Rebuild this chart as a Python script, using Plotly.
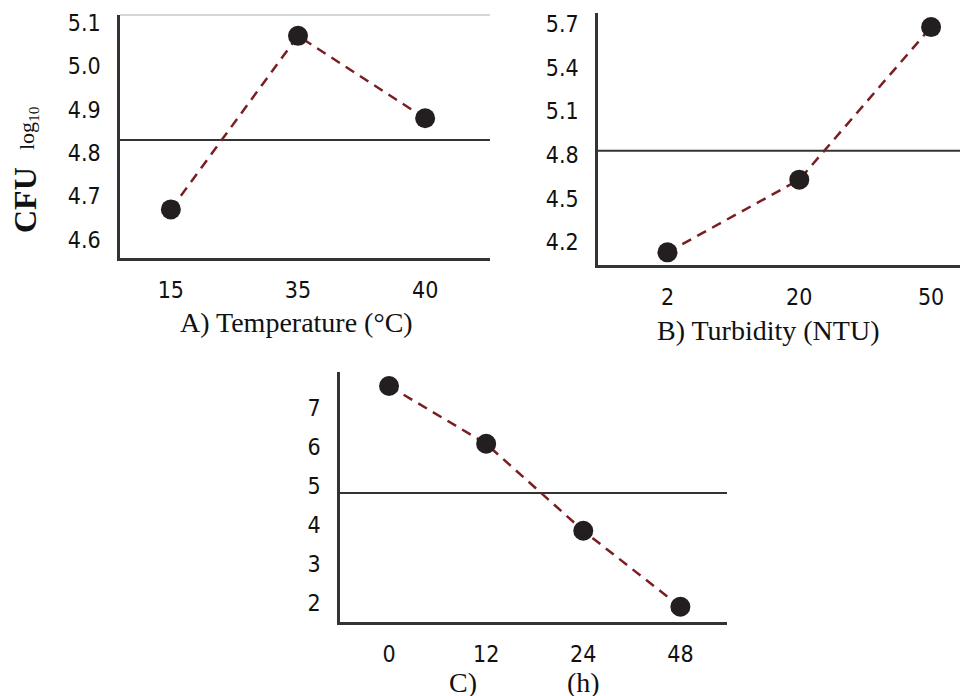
import plotly.graph_objects as go

# ---------------- data ----------------
temp_labels = ["15", "35", "40"]
temp_cfu = [4.67, 5.07, 4.88]

turb_labels = ["2", "20", "50"]
turb_cfu = [4.13, 4.63, 5.68]

time_labels = ["0", "12", "24", "48"]
time_cfu = [7.56, 6.08, 3.85, 1.90]

thresholds = [4.83, 4.83, 4.82]

yticks_a = [4.6, 4.7, 4.8, 4.9, 5.0, 5.1]
yticks_b = [4.2, 4.5, 4.8, 5.1, 5.4, 5.7]
yticks_c = [2, 3, 4, 5, 6, 7]

titles = ["A) Temperature (°C)", "B) Turbidity (NTU)"]
title_c = ["C)", "(h)"]
ytitle = ["CFU", "log<sub>10</sub>"]

# ---------------- styling ----------------
OFF = 8                      # page body margin
W, H = 968 - OFF, 696 - OFF  # figure size
LINE_RED = "#7a1e22"
DOT = "#231f20"
AX = "#333333"
TICKFONT = dict(family="DejaVu Sans Condensed, DejaVu Sans", size=23, color="#111")
SERIF = "Liberation Serif"


def dom_x(a, b):
    return [(a - OFF) / W, min(1, (b - OFF) / W)]


def dom_y(top, bottom):
    return [1 - (bottom - OFF) / H, 1 - (top - OFF) / H]


fig = go.Figure()

panels = [
    dict(x=temp_labels, y=temp_cfu, xa="x", ya="y", xd=dom_x(120, 490), yd=dom_y(15, 258),
         xr=[-0.40, 2.51], yr=[4.558, 5.118], yt=yticks_a, fmt=".1f"),
    dict(x=turb_labels, y=turb_cfu, xa="x2", ya="y2", xd=dom_x(598, 968), yd=dom_y(13, 265),
         xr=[-0.527, 2.28], yr=[4.043, 5.777], yt=yticks_b, fmt=".1f"),
    dict(x=time_labels, y=time_cfu, xa="x3", ya="y3", xd=dom_x(340, 727), yd=dom_y(372, 622),
         xr=[-0.505, 3.48], yr=[1.51, 7.92], yt=yticks_c, fmt="d"),
]

for i, p in enumerate(panels):
    fig.add_trace(go.Scatter(
        x=p["x"], y=p["y"], xaxis=p["xa"], yaxis=p["ya"], mode="lines+markers",
        line=dict(color=LINE_RED, width=2.5, dash="10px,7px"),
        marker=dict(size=20, color=DOT), showlegend=False, cliponaxis=False,
    ))
    sfx = "" if i == 0 else str(i + 1)
    fig.layout["xaxis" + sfx] = dict(
        domain=p["xd"], anchor="y" + sfx, type="category", range=p["xr"],
        showline=True, linecolor=AX, linewidth=2.5, showgrid=False, zeroline=False,
        ticks="", tickfont=TICKFONT, ticklabelstandoff=10, automargin=False,
    )
    fig.layout["yaxis" + sfx] = dict(
        domain=p["yd"], anchor="x" + sfx, range=p["yr"], tickvals=p["yt"], tickformat=p["fmt"],
        showline=True, linecolor=AX, linewidth=2.5, showgrid=False, zeroline=False,
        ticks="", tickfont=TICKFONT, ticklabelstandoff=12, automargin=False,
    )
    # threshold line
    fig.add_shape(type="line", xref=p["xa"] + " domain", yref=p["ya"],
                  x0=0, x1=1, y0=thresholds[i], y1=thresholds[i],
                  line=dict(color=AX, width=2), layer="below")

# faint top border on panel A
fig.add_shape(type="line", xref="x domain", yref="y domain", x0=0, x1=1, y0=1, y1=1,
              line=dict(color="#c8c8c8", width=1.5))

TFONT = dict(family=SERIF, size=28, color="#111")
# axis titles
fig.add_annotation(text=titles[0], xref="x domain", yref="y domain", x=0.478, y=0,
                   yshift=-64, yanchor="middle", xanchor="center", showarrow=False, font=TFONT)
fig.add_annotation(text=titles[1], xref="x2 domain", yref="y2 domain", x=0.46, y=0,
                   yshift=-65, yanchor="middle", xanchor="center", showarrow=False, font=TFONT)
fig.add_annotation(text=title_c[0], xref="x3 domain", yref="y3 domain", x=0.318, y=0,
                   yshift=-60, yanchor="middle", xanchor="center", showarrow=False, font=TFONT)
fig.add_annotation(text=title_c[1], xref="x3 domain", yref="y3 domain", x=0.628, y=0,
                   yshift=-60, yanchor="middle", xanchor="center", showarrow=False, font=TFONT)

# y title (two parts: bold CFU, regular log10)
fig.add_annotation(text="<b>%s</b>" % ytitle[0], xref="paper", yref="paper",
                   x=(25 - OFF) / W, y=1 - (200 - OFF) / H,
                   xanchor="center", yanchor="middle", textangle=-90,
                   showarrow=False, font=dict(family=SERIF, size=32, color="#111"))
fig.add_annotation(text=ytitle[1], xref="paper", yref="paper",
                   x=(28 - OFF) / W, y=1 - (128 - OFF) / H,
                   xanchor="center", yanchor="middle", textangle=-90,
                   showarrow=False, font=dict(family=SERIF, size=22, color="#111"))

fig.update_layout(
    width=W, height=H, margin=dict(l=0, r=0, t=0, b=0),
    paper_bgcolor="white", plot_bgcolor="white", template="none",
)

fig.write_html("out.html")
